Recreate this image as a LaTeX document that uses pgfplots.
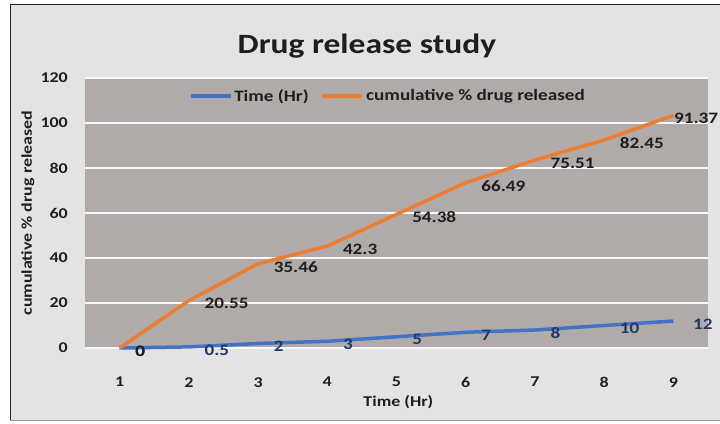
\documentclass[border=0pt]{standalone}
\usepackage{pgfplots}
\pgfplotsset{compat=1.18}
\usepackage{pgfplotstable}
\usepackage{fontspec}
\setmainfont[FakeStretch=1.2]{Carlito}
\definecolor{bgc}{RGB}{227,227,227}
\definecolor{plotc}{RGB}{176,171,168}
\definecolor{blueS}{RGB}{68,114,196}
\definecolor{orangeS}{RGB}{237,125,49}
\definecolor{navy}{RGB}{32,56,100}
\definecolor{txt}{RGB}{30,30,30}
\pgfplotstableread{
x t c dxt dxc
1 0 0 14 14
2 0.5 20.55 14 14
3 2 35.46 14 14
4 3 42.3 14 14
5 5 54.38 14 14
6 7 66.49 14 14
7 8 75.51 14 14
8 10 82.45 14 14
9 12 91.37 18 -1
}\drugdata
\begin{document}
\begin{tikzpicture}[x=1bp,y=1bp]
\useasboundingbox (0,0) rectangle (720,423);
\fill[white] (0,0) rectangle (720,423);
\fill[bgc] (10,2) rectangle (720,419);
\draw[black!85, line width=1.5bp] (10.5,2) -- (10.5,418.5) -- (720,418.5);
\draw[black!40, line width=1bp] (10,2.5) -- (720,2.5);
\node[anchor=base, font=\fontsize{28}{28}\selectfont\bfseries, text=txt] at (367,370) {Drug release study};
\begin{axis}[
  at={(85bp,75bp)}, anchor=south west,
  scale only axis, width=623bp, height=270bp,
  xmin=0.5, xmax=9.5, ymin=0, ymax=120,
  xtick={1,...,9}, ytick={0,20,...,120},
  axis background/.style={fill=plotc},
  axis line style={draw=none},
  major tick length=0pt,
  ymajorgrids, grid style={white!92!plotc, line width=1.2bp},
  /pgf/number format/assume math mode=true,
  tick label style={font=\fontsize{15}{15}\selectfont\bfseries, text=txt, inner sep=0bp},
  yticklabel style={anchor=east, xshift=-17bp},
  xticklabel style={anchor=north, yshift=-29bp},
  xlabel={Time (Hr)}, ylabel={cumulative \% drug released},
  label style={font=\fontsize{15}{15}\selectfont\bfseries, text=txt},
  xlabel style={at={(axis description cs:0.503,-0.2)}, anchor=center},
  ylabel style={at={(axis description cs:-0.0915,0.5)}, anchor=center, rotate=0},
  clip=false,
  legend columns=2,
  legend style={at={(axis description cs:0.486,0.933)}, anchor=center, draw=none, fill=none,
    font=\fontsize{16}{16}\selectfont\bfseries, text=txt,
    /tikz/every even column/.append style={column sep=10bp}},
  legend image code/.code={\draw[#1, line width=3.5bp] (0bp,0bp) -- (40bp,0bp);},
  nodes near coords, point meta=explicit symbolic,
  every node near coord/.append style={anchor=west, inner sep=0bp, xshift=\dx bp, yshift=-3bp, font=\fontsize{16}{16}\selectfont\bfseries},
]
\addplot[blueS, line width=3.5bp, line join=round, visualization depends on={\thisrow{dxt} \as \dx}, every node near coord/.append style={text=navy}] table[x=x, y=t, meta=t] {\drugdata};
\addlegendentry{Time (Hr)}
\addplot[orangeS, line width=3.5bp, line join=round, visualization depends on={\thisrow{dxc} \as \dx}, every node near coord/.append style={text=txt}] table[x=x, y expr=\thisrow{t}+\thisrow{c}, meta=c] {\drugdata};
\addlegendentry{cumulative \% drug released}
\end{axis}
\end{tikzpicture}
\end{document}
